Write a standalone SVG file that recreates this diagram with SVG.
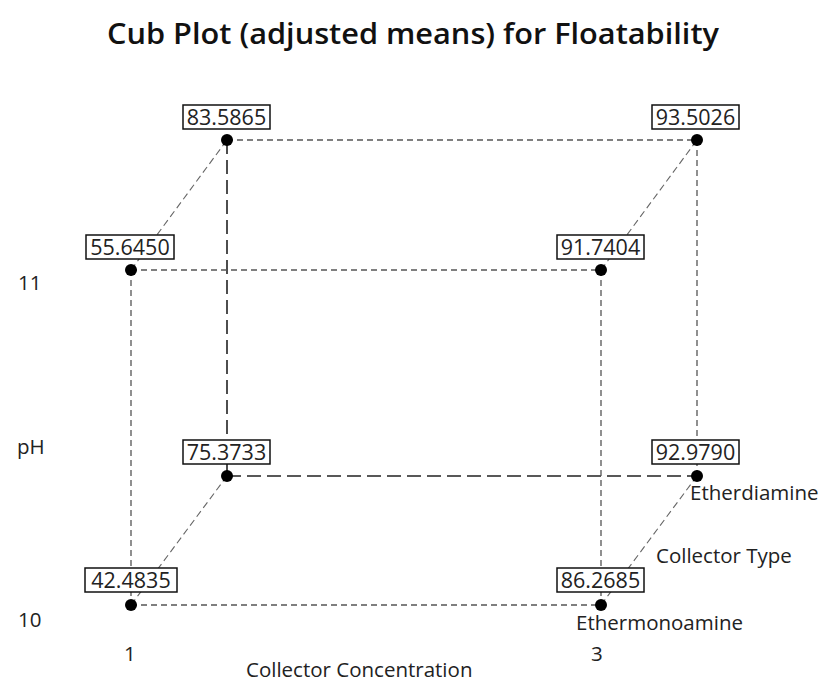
<svg xmlns="http://www.w3.org/2000/svg" width="826" height="684" viewBox="0 0 826 684">
<style>
text{font-family:"Open Sans","Noto Sans","Liberation Sans",sans-serif;fill:#222}
.t{font-size:29px;font-weight:600;fill:#111}
.ax{font-size:20.5px}
.v{font-size:21.5px;text-anchor:middle}
.box{fill:#fff;stroke:#111;stroke-width:1.5}
.sd{stroke:#555;stroke-width:1.3;stroke-dasharray:6 4;fill:none}
.ld{stroke:#222;stroke-width:1.6;stroke-dasharray:14 6;fill:none}
.dg{stroke:#666;stroke-width:1.1;stroke-dasharray:7 4;fill:none}
.dot{fill:#000}
</style>
<rect width="826" height="684" fill="#fff"/>
<text class="t" x="413" y="44" text-anchor="middle" textLength="612" lengthAdjust="spacingAndGlyphs">Cub Plot (adjusted means) for Floatability</text>
<g id="connectors">
<line class="dg" x1="131" y1="270" x2="227" y2="140"/>
<line class="dg" x1="601" y1="270" x2="697" y2="140"/>
<line class="dg" x1="131" y1="605" x2="227" y2="476"/>
<line class="dg" x1="601" y1="605" x2="697" y2="476"/>
<line class="sd" x1="227" y1="140" x2="697" y2="140"/>
<line class="sd" x1="697" y1="140" x2="697" y2="476"/>
<line class="ld" x1="227" y1="140" x2="227" y2="476"/>
<line class="ld" x1="227" y1="476" x2="697" y2="476"/>
<line class="sd" x1="131" y1="270" x2="601" y2="270"/>
<line class="sd" x1="131" y1="270" x2="131" y2="605"/>
<line class="sd" x1="601" y1="270" x2="601" y2="605"/>
<line class="sd" x1="131" y1="605" x2="601" y2="605"/>
</g>
<g id="n1"><rect class="box" x="85" y="568" width="92" height="24"/><text class="v" x="131" y="588">42.4835</text><circle class="dot" cx="131" cy="605" r="6"/></g>
<g id="n2"><rect class="box" x="557" y="568" width="87" height="24"/><text class="v" x="600.5" y="588">86.2685</text><circle class="dot" cx="601" cy="605" r="6"/></g>
<g id="n3"><rect class="box" x="86" y="235" width="88" height="24"/><text class="v" x="130" y="255">55.6450</text><circle class="dot" cx="131" cy="270" r="6"/></g>
<g id="n4"><rect class="box" x="557" y="235" width="87" height="24"/><text class="v" x="600.5" y="255">91.7404</text><circle class="dot" cx="601" cy="270" r="6"/></g>
<g id="n5"><rect class="box" x="183" y="105" width="87" height="24"/><text class="v" x="226.5" y="125">83.5865</text><circle class="dot" cx="227" cy="140" r="6"/></g>
<g id="n6"><rect class="box" x="652" y="105" width="87" height="24"/><text class="v" x="695.5" y="125">93.5026</text><circle class="dot" cx="697" cy="140" r="6"/></g>
<g id="n7"><rect class="box" x="183" y="440" width="87" height="24"/><text class="v" x="226.5" y="460">75.3733</text><circle class="dot" cx="227" cy="476" r="6"/></g>
<g id="n8"><rect class="box" x="652" y="440" width="87" height="24"/><text class="v" x="695.5" y="460">92.9790</text><circle class="dot" cx="697" cy="476" r="6"/></g>
<text class="ax" x="18" y="290">11</text>
<text class="ax" x="17" y="454">pH</text>
<text class="ax" x="18" y="627">10</text>
<text class="ax" x="124" y="661">1</text>
<text class="ax" x="591" y="661">3</text>
<text class="ax" x="246" y="677">Collector Concentration</text>
<text class="ax" x="690" y="500">Etherdiamine</text>
<text class="ax" x="656" y="563">Collector Type</text>
<text class="ax" x="576" y="630">Ethermonoamine</text>
</svg>
